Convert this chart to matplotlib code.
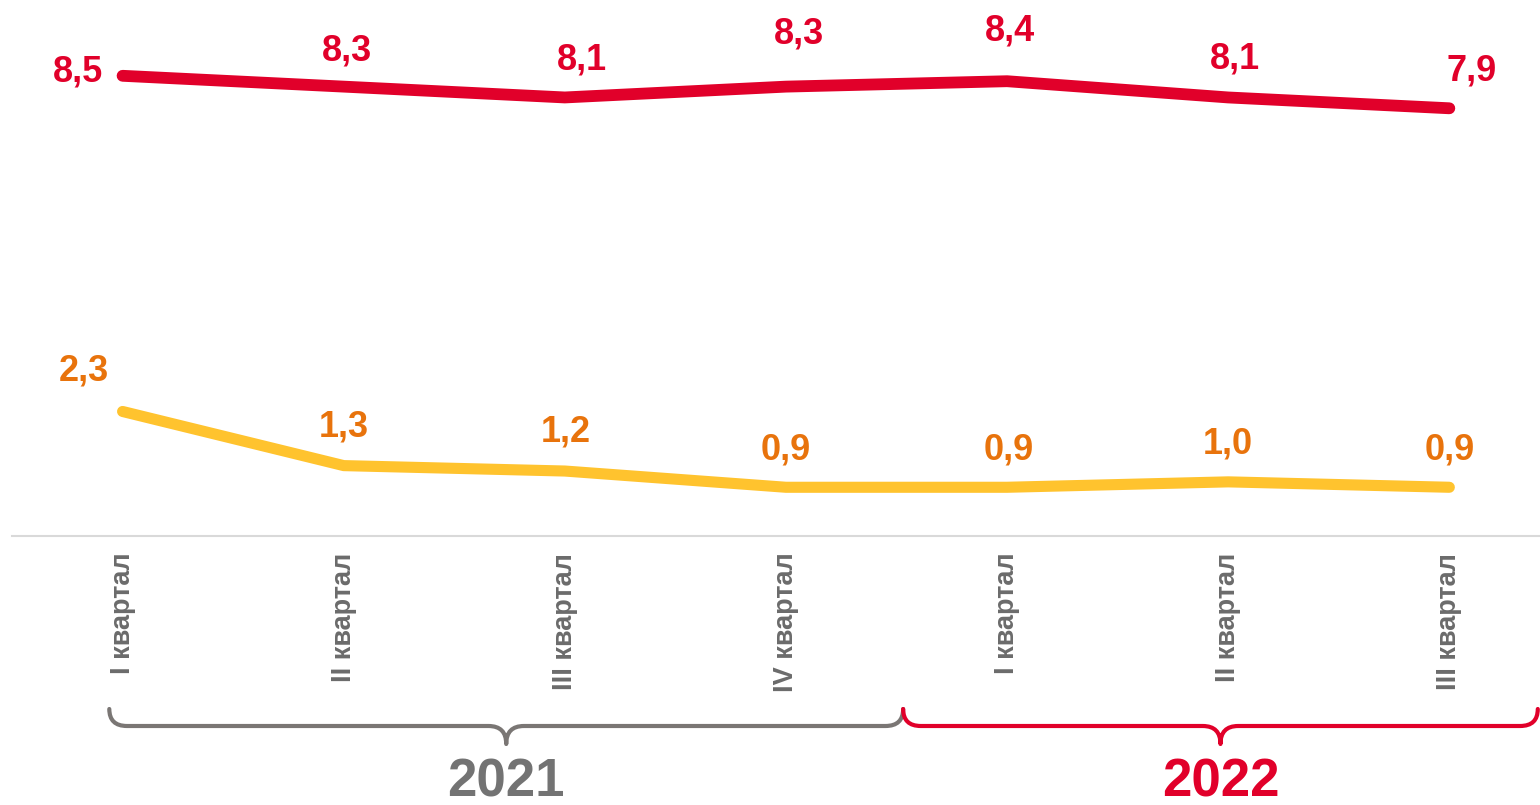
import numpy as np
import matplotlib.pyplot as plt
from matplotlib.path import Path
from matplotlib.patches import PathPatch
from matplotlib.transforms import blended_transform_factory

plt.rcParams['font.family'] = ['Liberation Sans', 'DejaVu Sans']

quarters = ['I квартал', 'II квартал', 'III квартал', 'IV квартал',
            'I квартал', 'II квартал', 'III квартал']
red_vals = [8.5, 8.3, 8.1, 8.3, 8.4, 8.1, 7.9]
orange_vals = [2.3, 1.3, 1.2, 0.9, 0.9, 1.0, 0.9]
years = ['2021', '2022']

RED = '#e1002a'
YEL = '#ffc32e'
ORG = '#e8730c'
GREY = '#6b6b6b'
BGREY = '#7a7674'

W, H = 1540, 805
fig = plt.figure(figsize=(W / 100, H / 100), dpi=100)
ax = fig.add_axes([12 / W, (H - 536) / H, 1 - 12 / W, 536 / H])

x = np.arange(len(quarters))
ax.plot(x, red_vals, color=RED, lw=8.5, solid_capstyle='round')
ax.plot(x, orange_vals, color=YEL, lw=8, solid_capstyle='round')

# label offsets (points)
red_off = [(-32, 3), (2, 26), (12, 27), (9, 38), (2, 36), (5, 28), (16, 27)]
org_off = [(-28, 29), (0, 28), (1, 28), (0, 27), (1, 27), (0, 27), (0, 27)]

for i, v in enumerate(red_vals):
    ax.annotate(f'{v:.1f}'.replace('.', ','), (x[i], v), xytext=red_off[i],
                textcoords='offset points', ha='center', va='center',
                fontsize=26, fontweight='bold', color=RED)
for i, v in enumerate(orange_vals):
    ax.annotate(f'{v:.1f}'.replace('.', ','), (x[i], v), xytext=org_off[i],
                textcoords='offset points', ha='center', va='center',
                fontsize=26, fontweight='bold', color=ORG)

ax.set_xlim(-0.5, 6.41)
ax.set_ylim(0, 9.9)
ax.set_yticks([])
ax.set_xticks(x)
ax.set_xticklabels(quarters, rotation=90, fontsize=19.5, fontweight='bold',
                   color=GREY, va='top')
ax.tick_params(axis='x', length=0, pad=12)
for s in ['top', 'right', 'left']:
    ax.spines[s].set_visible(False)
ax.spines['bottom'].set_color('#d9d9d9')
ax.spines['bottom'].set_linewidth(1.5)

# braces under the quarters
tr = blended_transform_factory(ax.transData, fig.transFigure)


def py(p):
    return 1 - p / H


def brace(x0, x1, color):
    xm = (x0 + x1) / 2
    r = 0.08
    yt, yl, yb = py(709), py(726), py(744)
    verts = [(x0, yt), (x0, yl), (x0 + r, yl), (xm - r, yl),
             (xm, yl), (xm, yb), (xm, yl), (xm + r, yl),
             (x1 - r, yl), (x1, yl), (x1, yt)]
    codes = [Path.MOVETO, Path.CURVE3, Path.CURVE3, Path.LINETO,
             Path.CURVE3, Path.CURVE3, Path.CURVE3, Path.CURVE3,
             Path.LINETO, Path.CURVE3, Path.CURVE3]
    patch = PathPatch(Path(verts, codes), transform=tr, fill=False,
                      edgecolor=color, lw=3, capstyle='round',
                      joinstyle='round', clip_on=False)
    fig.add_artist(patch)
    return xm


m1 = brace(-0.06, 3.53, BGREY)
m2 = brace(3.53, 6.40, RED)
fig.text(m1, py(782), years[0], transform=tr, ha='center', va='center',
         fontsize=38, fontweight='bold', color='#737373')
fig.text(m2, py(782), years[1], transform=tr, ha='center', va='center',
         fontsize=38, fontweight='bold', color=RED)

fig.savefig('out.png', dpi=100)
